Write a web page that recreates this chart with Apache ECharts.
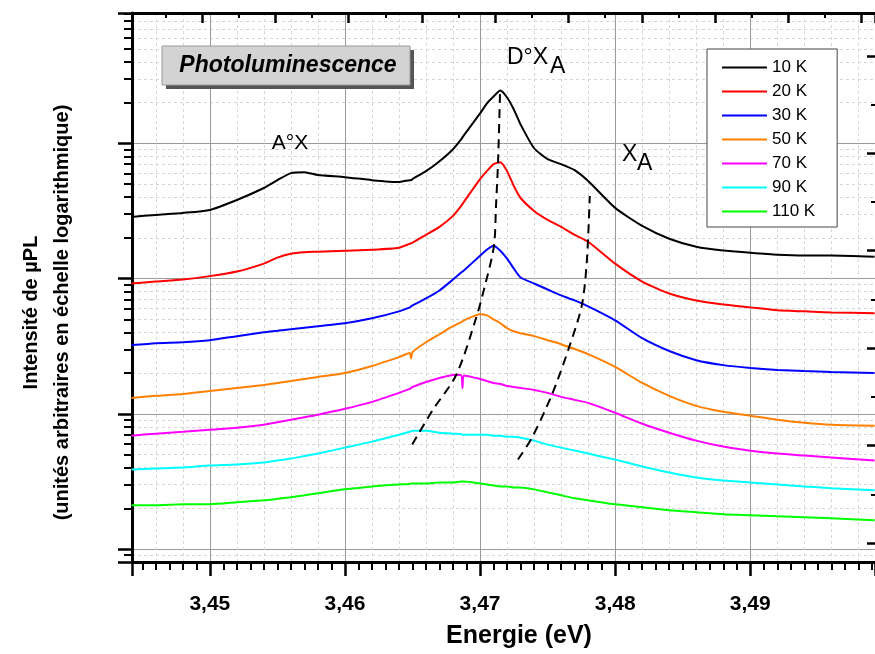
<!DOCTYPE html>
<html>
<head>
<meta charset="utf-8">
<script src="https://cdn.jsdelivr.net/npm/echarts@6/dist/echarts.min.js"></script>
<style>
html,body{margin:0;padding:0;background:#fff;}
#chart{width:875px;height:654px;}
</style>
</head>
<body>
<div id="chart"></div>
<script>
// ---- data ----
const energyEV = [3.4442, 3.446, 3.448, 3.450, 3.452, 3.454, 3.455, 3.456, 3.457, 3.458,
  3.460, 3.462, 3.464, 3.4648, 3.4649, 3.4650, 3.466, 3.467, 3.468, 3.4686,
  3.4687, 3.4688, 3.470, 3.4705, 3.471, 3.4715, 3.472, 3.4725, 3.473, 3.474,
  3.475, 3.476, 3.477, 3.478, 3.480, 3.482, 3.484, 3.486, 3.488, 3.490,
  3.492, 3.494, 3.496, 3.4992];

const temperatures = ['10 K', '20 K', '30 K', '50 K', '70 K', '90 K', '110 K'];

const pl10K = [285.6, 295.5, 305.7, 321.7, 381, 467, 534, 602, 612, 582,
  562, 534, 517, 534, 534, 544, 622, 737, 904, 1070,
  1107, 1145, 1662, 1968, 2216, 2453, 2179, 1778, 1379, 919,
  763, 701, 633, 526, 333, 245, 197, 172, 161, 155,
  150, 148, 148, 145];

const pl20K = [91.9, 95.0, 98.3, 104.2, 112.6, 128.9, 142.7, 152.7, 156.6, 157.9,
  160.7, 163.4, 169.0, 180.9, 182.4, 183.9, 210.6, 241.2, 290.5, 344.2,
  356.0, 368.3, 543.6, 622.5, 700.8, 724.8, 622.5, 482.9, 394.0, 316.2,
  271.6, 241.2, 210.6, 187.1, 128.9, 95.0, 77.6, 68.9, 64.4, 61.2,
  58.2, 57.2, 56.2, 55.3];

const pl30K = [32.2, 33.3, 33.8, 35.0, 37.5, 40.1, 41.1, 42.2, 43.3, 44.4,
  46.7, 50.8, 57.2, 61.2, 62.3, 63.3, 71.3, 81.6, 98.3, 110.7,
  112.6, 114.5, 147.6, 163.4, 174.8, 160.7, 140.3, 118.4, 101.7, 91.9,
  83.0, 75.0, 68.9, 62.3, 49.1, 36.2, 29.1, 24.9, 22.9, 21.8,
  21.1, 20.7, 20.4, 20.0];

const pl50K = [13.11, 13.57, 14.03, 14.76, 15.53, 16.34, 16.90, 17.48, 18.09, 18.71,
  20.0, 22.54, 26.25, 28.09, 25.6, 28.56, 33.8, 38.74, 44.4, 47.5,
  48.3, 49.1, 54.4, 53.4, 49.9, 46.7, 42.9, 40.8, 39.4, 37.5,
  35.0, 32.7, 30.1, 27.6, 22.2, 16.90, 13.57, 11.45, 10.34, 9.67,
  9.04, 8.59, 8.30, 8.16];

const pl70K = [6.89, 7.13, 7.37, 7.63, 7.89, 8.30, 8.66, 9.04, 9.43, 9.83,
  10.88, 12.25, 14.27, 15.27, 15.53, 15.79, 17.19, 18.39, 19.36, 19.36,
  15.53, 19.19, 18.09, 17.48, 16.90, 16.62, 16.07, 15.79, 15.53, 15.01,
  14.27, 13.34, 12.67, 12.05, 10.17, 8.44, 7.25, 6.33, 5.72, 5.34,
  5.08, 4.91, 4.75, 4.51];

const pl90K = [3.874, 3.940, 4.009, 4.147, 4.217, 4.362, 4.51, 4.669, 4.87, 5.081,
  5.623, 6.225, 7.008, 7.372, 7.434, 7.499, 7.499, 7.249, 7.127, 7.068,
  7.008, 7.008, 7.008, 7.008, 6.889, 6.889, 6.774, 6.774, 6.660, 6.331,
  5.917, 5.623, 5.344, 5.081, 4.590, 4.076, 3.683, 3.384, 3.217, 3.109,
  3.006, 2.905, 2.809, 2.716];

const pl110K = [2.106, 2.106, 2.142, 2.142, 2.216, 2.293, 2.351, 2.412, 2.495, 2.581,
  2.762, 2.905, 3.006, 3.031, 3.057, 3.057, 3.057, 3.109, 3.109, 3.162,
  3.162, 3.162, 3.057, 3.006, 2.955, 2.905, 2.905, 2.856, 2.856, 2.762,
  2.625, 2.495, 2.371, 2.293, 2.142, 2.036, 1.936, 1.871, 1.809, 1.778,
  1.748, 1.719, 1.690, 1.634];

// dashed guide lines through the D°XA peaks and the XA shoulders
const dxaGuideE = [3.46498, 3.46646, 3.46823, 3.46970, 3.47044, 3.47103, 3.47118, 3.47133, 3.47148];
const dxaGuideI = [5.917, 10.52, 19.36, 50.8, 95.0, 174.8, 344.2, 724.8, 2412];
const xaGuideE = [3.47280, 3.47384, 3.47531, 3.47657, 3.47753, 3.47790, 3.47812];
const xaGuideI = [4.590, 6.660, 13.79, 30.57, 63.3, 133.4, 407.6];

// ---- chart ----
const FONT = '"Liberation Sans", Arial, sans-serif';
const colors = ['#000000', '#ff0000', '#0000ff', '#ff8000', '#ff00ff', '#00ffff', '#00ff00'];
const spectra = [pl10K, pl20K, pl30K, pl50K, pl70K, pl90K, pl110K];
const X_MIN = 3.44424, X_MAX = 3.49923;

const series = spectra.map((vals, k) => ({
  name: temperatures[k],
  type: 'line',
  xAxisIndex: 0, yAxisIndex: 0,
  data: energyEV.map((e, i) => [e, vals[i]]),
  symbol: 'none', showSymbol: false,
  smooth: 0.2,
  lineStyle: { color: colors[k], width: 2 },
  itemStyle: { color: colors[k] },
  z: 3
}));
series.push({
  name: 'guideDXA', type: 'line', xAxisIndex: 0, yAxisIndex: 0,
  data: dxaGuideE.map((e, i) => [e, dxaGuideI[i]]),
  symbol: 'none', smooth: 0.3, silent: true,
  lineStyle: { color: '#000', width: 2, type: [9, 6] }, z: 5
});
series.push({
  name: 'guideXA', type: 'line', xAxisIndex: 0, yAxisIndex: 0,
  data: xaGuideE.map((e, i) => [e, xaGuideI[i]]),
  symbol: 'none', smooth: 0.3, silent: true,
  lineStyle: { color: '#000', width: 2, type: [9, 6] }, z: 5
});

const chart = echarts.init(document.getElementById('chart'), null, { renderer: 'canvas' });
chart.setOption({
  animation: false,
  backgroundColor: '#fff',
  grid: { left: 132, top: 13, right: -2, bottom: 89, containLabel: false },
  legend: {
    data: temperatures,
    orient: 'vertical',
    left: 707, top: 49,
    itemWidth: 45, itemHeight: 14, itemGap: 7,
    padding: [10, 22, 7, 14],
    backgroundColor: '#fff',
    borderColor: '#444', borderWidth: 1, borderRadius: 0,
    selectedMode: false,
    itemStyle: { opacity: 0 },
    lineStyle: { width: 2 },
    textStyle: { fontFamily: FONT, fontSize: 17, color: '#000', lineHeight: 17 },
    z: 10
  },
  xAxis: [
    {
      type: 'value', position: 'bottom', min: X_MIN, max: X_MAX, splitNumber: 5,
      axisLine: { show: true, onZero: false, lineStyle: { color: '#000', width: 3 } },
      axisTick: { show: true, inside: false, length: 14, lineStyle: { color: '#000', width: 2.5 } },
      minorTick: { show: true, splitNumber: 10, length: 8, lineStyle: { color: '#000', width: 2 } },
      axisLabel: {
        show: true, margin: 32, showMinLabel: false, showMaxLabel: false,
        fontFamily: FONT, fontSize: 21, fontWeight: 'bold', color: '#000',
        formatter: v => v.toFixed(2).replace('.', ',')
      },
      splitLine: { show: true, lineStyle: { color: '#9a9a9a', width: 1 } },
      minorSplitLine: { show: false },
      name: 'Energie (eV)', nameLocation: 'middle', nameGap: 62,
      nameTextStyle: { fontFamily: FONT, fontSize: 25, fontWeight: 'bold', color: '#000', padding: [0, 0, 0, 31] }
    },
    {
      type: 'value', position: 'bottom', min: X_MIN, max: X_MAX, splitNumber: 5,
      axisLine: { show: false }, axisTick: { show: false }, axisLabel: { show: false },
      splitLine: { show: false },
      minorTick: { show: false, splitNumber: 5 },
      minorSplitLine: { show: true, lineStyle: { color: '#d6d6d6', width: 1, type: [3, 3] } }
    },
    {
      type: 'value', position: 'top', min: -0.955, max: 9.181, splitNumber: 10,
      axisLine: { show: true, onZero: false, lineStyle: { color: '#000', width: 3 } },
      axisTick: { show: true, inside: true, length: 10, lineStyle: { color: '#000', width: 2.5 } },
      minorTick: { show: true, splitNumber: 2, length: 5, lineStyle: { color: '#000', width: 2 } },
      axisLabel: { show: false }, splitLine: { show: false }
    }
  ],
  yAxis: [
    {
      type: 'log', logBase: 10, position: 'left', min: 0.802, max: 9190,
      axisLine: { show: true, onZero: false, lineStyle: { color: '#000', width: 3 } },
      axisTick: { show: true, inside: false, length: 14, lineStyle: { color: '#000', width: 2.5 } },
      minorTick: { show: true, splitNumber: 9, length: 8, lineStyle: { color: '#000', width: 2 } },
      axisLabel: { show: false },
      splitLine: { show: true, lineStyle: { color: '#9a9a9a', width: 1 } },
      minorSplitLine: { show: true, lineStyle: { color: '#d6d6d6', width: 1, type: [3, 3] } },
      name: 'Intensité de µPL\n(unités arbitraires en échelle logarithmique)',
      nameLocation: 'middle', nameGap: 54, nameRotate: 90,
      nameTextStyle: { fontFamily: FONT, fontSize: 20, fontWeight: 'bold', color: '#000', lineHeight: 31, padding: [0, 50, 0, 0] }
    },
    {
      type: 'value', position: 'right', min: -1.194, max: 4.439, splitNumber: 5,
      axisLine: { show: false, onZero: false },
      axisTick: { show: true, inside: true, length: 8, lineStyle: { color: '#000', width: 2.5 } },
      minorTick: { show: true, splitNumber: 2, length: 4, lineStyle: { color: '#000', width: 2 } },
      axisLabel: { show: false }, splitLine: { show: false }
    }
  ],
  graphic: [
    { type: 'rect', z: 100, shape: { x: 166, y: 50, width: 248, height: 39 }, style: { fill: '#555' } },
    { type: 'rect', z: 101, shape: { x: 162, y: 46, width: 248, height: 39 }, style: { fill: '#d3d3d3', stroke: '#9a9a9a', lineWidth: 1 } },
    { type: 'text', z: 102, x: 288, y: 66, style: { text: 'Photoluminescence', font: 'italic bold 23px "Liberation Sans", Arial, sans-serif', fill: '#000', align: 'center', verticalAlign: 'middle' } },
    { type: 'text', z: 102, x: 290, y: 143, style: { text: 'A°X', font: '21px "Liberation Sans", Arial, sans-serif', fill: '#000', align: 'center', verticalAlign: 'middle' } },
    { type: 'text', z: 102, x: 507, y: 58, style: { text: 'D°X', font: '23px "Liberation Sans", Arial, sans-serif', fill: '#000', align: 'left', verticalAlign: 'middle' } },
    { type: 'text', z: 102, x: 550, y: 67, style: { text: 'A', font: '23px "Liberation Sans", Arial, sans-serif', fill: '#000', align: 'left', verticalAlign: 'middle' } },
    { type: 'text', z: 102, x: 622, y: 155, style: { text: 'X', font: '23px "Liberation Sans", Arial, sans-serif', fill: '#000', align: 'left', verticalAlign: 'middle' } },
    { type: 'text', z: 102, x: 637, y: 164, style: { text: 'A', font: '23px "Liberation Sans", Arial, sans-serif', fill: '#000', align: 'left', verticalAlign: 'middle' } }
  ],
  series: series
});
</script>
</body>
</html>
